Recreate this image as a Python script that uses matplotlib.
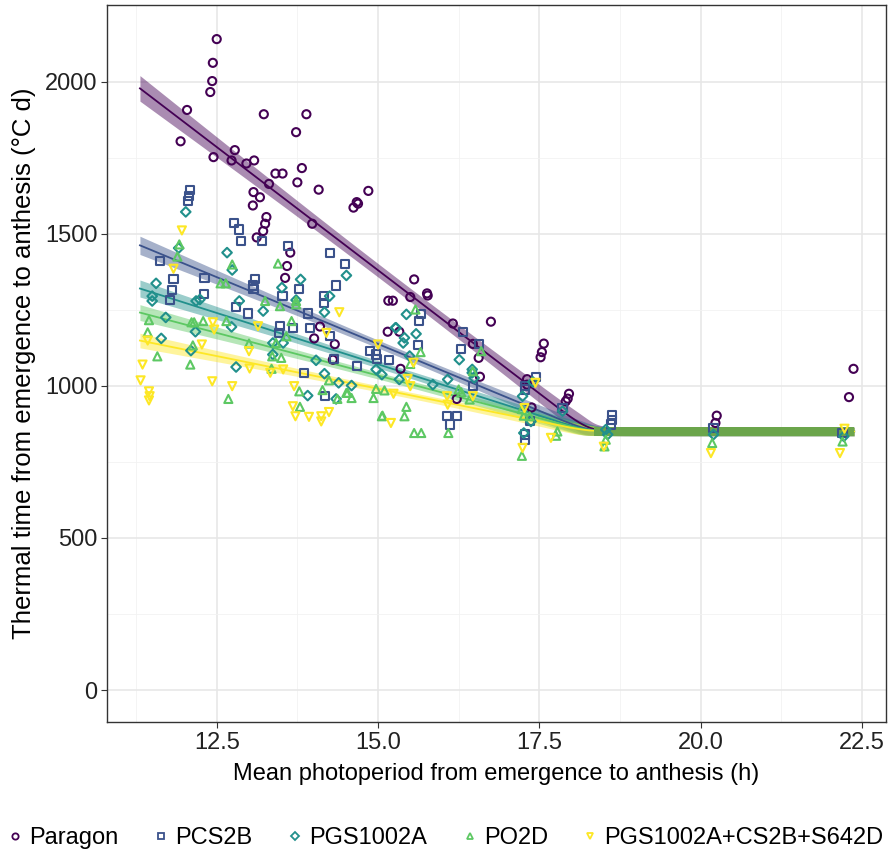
import numpy as np
import matplotlib
matplotlib.use("Agg")
import matplotlib.pyplot as plt
from matplotlib.lines import Line2D

plt.rcParams['font.family'] = ['Liberation Sans', 'DejaVu Sans']

genotypes = ["Paragon", "PCS2B", "PGS1002A", "PO2D", "PGS1002A+CS2B+S642D"]
colors = ["#440154", "#3B528B", "#21908C", "#5DC863", "#FDE725"]
markers = ["o", "s", "D", "^", "v"]

paragon_x = [12.50, 12.44, 12.43, 12.40, 12.04, 11.94, 12.45, 13.23, 13.89, 13.73, 12.78, 12.73, 12.96, 13.08,
             13.82, 13.41, 13.52, 13.31, 13.75, 14.08, 14.85, 14.67, 14.69, 14.62, 13.07, 13.17, 13.06, 13.98,
             13.27, 13.25, 13.22, 13.12, 13.59, 13.64, 13.56, 15.16, 15.23, 15.15, 14.10, 14.01, 14.33, 14.30,
             15.56, 15.50, 15.76, 15.77, 15.33, 15.35, 16.16, 16.75, 16.47, 16.56, 16.58, 16.22, 17.31, 17.31,
             17.38, 17.57, 17.54, 17.52, 17.96, 17.94, 17.91, 20.25, 20.23, 22.37, 22.30]
paragon_y = [2140, 2062, 2002, 1966, 1907, 1804, 1752, 1893, 1893, 1834, 1775, 1741, 1731, 1741,
             1716, 1698, 1698, 1664, 1669, 1645, 1641, 1604, 1599, 1586, 1637, 1620, 1593, 1533,
             1555, 1533, 1509, 1488, 1394, 1438, 1355, 1280, 1280, 1178, 1195, 1156, 1137, 1086,
             1350, 1292, 1304, 1297, 1178, 1056, 1205, 1211, 1138, 1092, 1030, 957, 1022, 1004,
             929, 1139, 1111, 1094, 974, 958, 949, 902, 878, 1056, 963]

pcs2b_x = [12.09, 12.07, 12.05, 12.77, 12.85, 12.87, 13.20, 13.61, 14.26, 14.49, 11.62, 11.83, 12.31, 11.81,
           11.77, 12.30, 13.09, 13.06, 13.07, 12.80, 12.98, 13.52, 13.77, 14.35, 14.16, 14.16, 13.91, 13.48,
           13.68, 13.95, 13.46, 14.26, 14.87, 14.97, 14.99, 15.17, 14.68, 14.32, 14.18, 13.85, 15.62, 15.63,
           15.67, 16.32, 16.56, 16.29, 16.47, 16.07, 16.22, 16.12, 17.28, 17.28, 17.45, 17.28, 17.28, 17.35,
           17.86, 18.63, 18.63, 18.61, 20.20, 22.20]
pcs2b_y = [1645, 1624, 1607, 1535, 1514, 1477, 1477, 1461, 1438, 1402, 1410, 1350, 1354, 1315,
           1282, 1302, 1350, 1330, 1317, 1260, 1238, 1295, 1319, 1330, 1295, 1273, 1238, 1196,
           1191, 1191, 1174, 1163, 1116, 1103, 1089, 1086, 1065, 1089, 968, 1043, 1133, 1212,
           1235, 1177, 1139, 1120, 999, 900, 900, 873, 999, 988, 1030, 840, 823, 883,
           927, 903, 889, 873, 860, 845]

pgs_x = [12.02, 12.66, 11.91, 12.74, 11.56, 11.50, 11.50, 12.24, 12.18, 11.71, 11.64, 12.17, 12.10, 12.80,
         12.73, 12.85, 13.22, 13.51, 13.80, 14.51, 14.25, 14.17, 13.37, 13.53, 13.37, 14.04, 13.91, 14.35,
         14.59, 14.97, 15.28, 13.73, 14.17, 14.39, 15.44, 15.27, 15.41, 15.39, 15.59, 15.85, 15.06, 15.33,
         15.49, 16.26, 16.08, 16.46, 16.46, 16.49, 17.24, 17.26, 17.37, 17.40, 17.86, 18.53, 18.56, 20.20,
         22.22]
pgs_y = [1572, 1438, 1453, 1381, 1337, 1295, 1279, 1284, 1279, 1225, 1156, 1178, 1116, 1062,
         1194, 1279, 1246, 1323, 1350, 1363, 1295, 1242, 1141, 1141, 1103, 1084, 968, 957,
         1001, 1054, 1191, 1282, 1040, 1010, 1235, 1191, 1158, 1141, 1171, 1004, 1037, 1021,
         1098, 1086, 1021, 1054, 1043, 1026, 966, 845, 883, 1013, 917, 856, 840, 840,
         834]

po2d_x = [11.92, 11.89, 11.45, 11.43, 11.58, 12.09, 12.11, 12.15, 12.13, 12.29, 12.74, 13.45, 12.56, 12.64,
          13.25, 13.73, 13.73, 13.48, 12.65, 13.00, 13.42, 13.58, 13.66, 13.36, 13.50, 13.35, 12.68, 13.78,
          13.79, 14.14, 14.24, 14.51, 14.59, 14.93, 14.97, 15.06, 15.10, 14.37, 14.53, 15.07, 15.41, 15.44,
          15.56, 15.67, 15.58, 15.66, 15.50, 16.25, 16.29, 16.09, 16.42, 16.47, 16.60, 17.23, 17.26, 17.23,
          17.35, 17.78, 17.76, 18.51, 18.53, 20.18, 22.20]
po2d_y = [1465, 1425, 1216, 1176, 1097, 1070, 1209, 1209, 1133, 1213, 1399, 1402, 1337, 1337,
          1279, 1279, 1268, 1262, 1213, 1139, 1141, 1163, 1213, 1097, 1092, 1056, 957, 982,
          931, 986, 1018, 977, 960, 960, 990, 900, 985, 957, 977, 902, 900, 931,
          845, 845, 1251, 1111, 1072, 988, 979, 845, 955, 1048, 1114, 924, 902, 770,
          900, 850, 836, 801, 823, 812, 817]

tri_x = [11.96, 11.83, 11.43, 11.35, 11.32, 11.45, 11.46, 11.45, 12.44, 12.27, 12.43, 12.46, 12.74, 13.14,
         13.00, 13.01, 13.33, 13.68, 13.72, 13.93, 14.12, 14.12, 14.24, 14.40, 14.20, 15.00, 15.20, 15.24,
         13.70, 13.53, 15.46, 15.50, 15.55, 16.07, 16.08, 16.47, 17.44, 17.24, 17.27, 17.68, 18.50, 20.16,
         22.16, 22.23]
tri_y = [1511, 1385, 1149, 1070, 1018, 982, 966, 952, 1209, 1136, 1015, 1185, 999, 1196,
         1114, 1057, 1043, 933, 900, 898, 900, 883, 914, 1242, 1174, 1136, 878, 974,
         999, 1054, 1023, 999, 1076, 966, 938, 966, 1010, 796, 927, 829, 800, 779,
         779, 859]

xs_all = [paragon_x, pcs2b_x, pgs_x, po2d_x, tri_x]
ys_all = [paragon_y, pcs2b_y, pgs_y, po2d_y, tri_y]

# broken-stick fits: value at left end of fit, break point, plateau, CI half-widths
fit_left_y = [1978, 1462, 1320, 1241, 1149]
fit_break = [18.27, 18.27, 18.27, 18.27, 18.27]
plateau = 850
ci_left = [42, 30, 28, 26, 24]
ci_mid = [22, 13, 12, 11, 10]
ci_plateau = 14
fit_xmin, fit_xmax = 11.31, 22.38

fig = plt.figure(figsize=(8.92, 8.60), dpi=100)
ax = fig.add_axes([0.120, 0.1605, 0.873, 0.834])

xx = np.linspace(fit_xmin, fit_xmax, 600)
w = 0.12
for i in range(5):
    slope = (fit_left_y[i] - plateau) / (fit_break[i] - fit_xmin)
    d = (fit_break[i] - xx) / w
    sp = w * np.logaddexp(0, d)
    yy = plateau + slope * sp
    xc = 15.3
    t = np.clip((xx - xc) / (fit_xmin - xc), -1.5, 1.5)
    hw_lin = np.sqrt(ci_mid[i] ** 2 + (ci_left[i] ** 2 - ci_mid[i] ** 2) * t ** 2)
    wt = 1 / (1 + np.exp(-d * 1.5))
    hw = wt * hw_lin + (1 - wt) * ci_plateau
    ax.fill_between(xx, yy - hw, yy + hw, color=colors[i], alpha=0.45, lw=0, zorder=2)
    ax.plot(xx, yy, color=colors[i], lw=1.3, zorder=3)

# shared plateau band
px = np.linspace(18.35, fit_xmax, 50)
ax.fill_between(px, plateau - ci_plateau, plateau + ci_plateau, color="#6BA54B", lw=0, zorder=3.5)

for i in range(5):
    ax.scatter(xs_all[i], ys_all[i], marker=markers[i], s=34 if markers[i] != "D" else 24,
               facecolors="none", edgecolors=colors[i], linewidths=1.5, zorder=4)

ax.set_xlim(10.80, 22.87)
ax.set_ylim(-105, 2253)
ax.set_xticks([12.5, 15.0, 17.5, 20.0, 22.5])
ax.set_xticklabels(["12.5", "15.0", "17.5", "20.0", "22.5"])
ax.set_yticks([0, 500, 1000, 1500, 2000])
ax.set_xticks([11.25, 13.75, 16.25, 18.75, 21.25], minor=True)
ax.set_yticks([250, 750, 1250, 1750], minor=True)
ax.grid(True, which="major", color="#E6E6E6", lw=1.1, zorder=0)
ax.grid(True, which="minor", color="#F2F2F2", lw=0.6, zorder=0)
ax.set_axisbelow(True)
ax.tick_params(which="minor", length=0)
ax.tick_params(which="major", length=4, width=0.8, color="#333333", labelsize=17, labelcolor="#222222", pad=3)
for s in ax.spines.values():
    s.set_color("#333333")
    s.set_linewidth(1.0)

ax.set_xlabel("Mean photoperiod from emergence to anthesis (h)", fontsize=17, labelpad=7)
ax.set_ylabel("Thermal time from emergence to anthesis (°C d)", fontsize=18.5, labelpad=6)

handles = [Line2D([], [], ls="none", marker=markers[i], markersize=4.5, markerfacecolor="none",
                  markeredgecolor=colors[i], markeredgewidth=1.3) for i in range(5)]
fig.legend(handles, genotypes, loc="center", bbox_to_anchor=(0.5, 1 - 838 / 860), ncol=5, frameon=False,
           fontsize=17, handlelength=0.6, handletextpad=0.3, columnspacing=1.5)

fig.savefig("out.png", dpi=100)
